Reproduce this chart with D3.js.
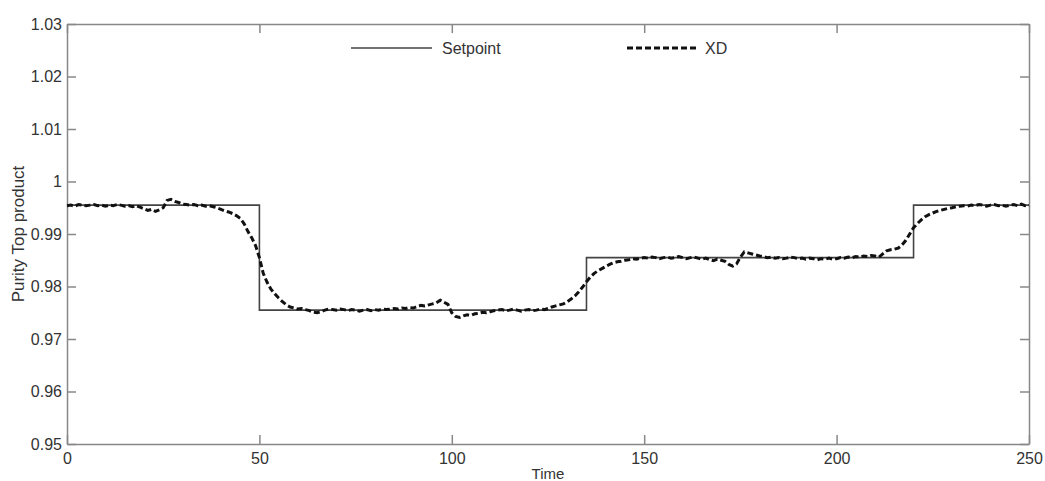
<!DOCTYPE html>
<html lang="en">
<head>
  <meta charset="UTF-8">
  <title>Purity Top product</title>
  <style>
    body {
      margin: 0;
      background: #fff;
      font-family: Arial, "Liberation Sans", sans-serif;
    }
    #chart svg text {
      fill: #333;
    }
  </style>
</head>
<body>
  <div id="chart"></div>

  <script src="https://d3js.org/d3.v7.min.js"></script>
  <script>
    // Setpoint steps (time, value) - held until next step
    const spTime = [0, 50, 135, 220, 250];
    const spValue = [0.9955, 0.9755, 0.9855, 0.9955, 0.9955];

    // XD measured purity, one sample per time unit from 0 to 250
    const xdTime = d3.range(0, 251);
    const xdValue = [
      0.9954, 0.9955, 0.9953, 0.9956, 0.9955, 0.9954, 0.9955, 0.9956, 0.9954, 0.9955,
      0.9953, 0.9955, 0.9954, 0.9956, 0.9955, 0.9953, 0.9954, 0.9952, 0.9954, 0.9951,
      0.9948, 0.9945, 0.9947, 0.9943, 0.9946, 0.9950, 0.9964, 0.9966, 0.9962, 0.9960,
      0.9957, 0.9956, 0.9955, 0.9956, 0.9954, 0.9955, 0.9953, 0.9954, 0.9952, 0.9950,
      0.9947, 0.9944, 0.9942, 0.9939, 0.9935, 0.9930, 0.9920, 0.9905, 0.9893, 0.9878,
      0.9855, 0.9825, 0.9808, 0.9795, 0.9786, 0.9778, 0.9771, 0.9765, 0.9761, 0.9759,
      0.9757, 0.9758, 0.9756, 0.9754, 0.9751, 0.9750, 0.9752, 0.9755, 0.9757, 0.9756,
      0.9755, 0.9757, 0.9756, 0.9754, 0.9756, 0.9755, 0.9753, 0.9755, 0.9756, 0.9754,
      0.9756, 0.9755, 0.9757, 0.9756, 0.9757, 0.9758, 0.9757, 0.9759, 0.9758, 0.9760,
      0.9759, 0.9762, 0.9764, 0.9763, 0.9765, 0.9767, 0.9769, 0.9774, 0.9770, 0.9766,
      0.9750, 0.9743, 0.9741, 0.9744, 0.9746, 0.9745, 0.9748, 0.9749, 0.9751, 0.9750,
      0.9752, 0.9754, 0.9755, 0.9756, 0.9754, 0.9755, 0.9757, 0.9755, 0.9753, 0.9755,
      0.9756, 0.9754, 0.9755, 0.9757, 0.9756, 0.9758, 0.9761, 0.9763, 0.9765, 0.9767,
      0.9771, 0.9776, 0.9782, 0.9790, 0.9799, 0.9809, 0.9818, 0.9825, 0.9830, 0.9834,
      0.9838, 0.9842, 0.9845, 0.9847, 0.9848, 0.9850, 0.9851, 0.9853, 0.9852, 0.9854,
      0.9855, 0.9854, 0.9856, 0.9855, 0.9853, 0.9855, 0.9856, 0.9854, 0.9855, 0.9857,
      0.9855, 0.9853, 0.9855, 0.9856, 0.9854, 0.9852, 0.9854, 0.9851, 0.9849, 0.9852,
      0.9850, 0.9848, 0.9842, 0.9839, 0.9843, 0.9856, 0.9866, 0.9864, 0.9862, 0.9860,
      0.9858, 0.9857, 0.9855, 0.9856, 0.9854, 0.9855, 0.9853, 0.9854, 0.9856, 0.9855,
      0.9853, 0.9854, 0.9852, 0.9854, 0.9853, 0.9851, 0.9853, 0.9852, 0.9854, 0.9852,
      0.9853, 0.9855, 0.9854, 0.9856, 0.9855, 0.9857, 0.9856, 0.9858, 0.9857, 0.9859,
      0.9858, 0.9856, 0.9862, 0.9868, 0.9870, 0.9871, 0.9873, 0.9879, 0.9888, 0.9900,
      0.9912, 0.9920, 0.9927, 0.9933, 0.9937, 0.9940, 0.9943, 0.9945, 0.9947, 0.9949,
      0.9950, 0.9952, 0.9953, 0.9954, 0.9953, 0.9955, 0.9954, 0.9956, 0.9955, 0.9953,
      0.9955, 0.9956, 0.9954, 0.9955, 0.9953, 0.9955, 0.9956, 0.9954, 0.9957, 0.9954,
      0.9955
    ];

    const xTicks = [0, 50, 100, 150, 200, 250];
    const yTicks = [0.95, 0.96, 0.97, 0.98, 0.99, 1.00, 1.01, 1.02, 1.03];

    const width = 1045;
    const height = 481;
    const margin = { top: 24, right: 16, bottom: 37, left: 67 };
    const plotW = width - margin.left - margin.right;
    const plotH = height - margin.top - margin.bottom;

    const svg = d3.select('#chart')
      .append('svg')
      .attr('width', width)
      .attr('height', height);

    const g = svg.append('g')
      .attr('transform', `translate(${margin.left},${margin.top})`);

    const x = d3.scaleLinear().domain([0, 250]).range([0, plotW]);
    const y = d3.scaleLinear().domain([0.95, 1.03]).range([plotH, 0]);

    const fmtY = (d) => String(+d.toFixed(2));
    const axisColor = '#888';
    const tickLen = 9;

    // bottom & left axes with inward ticks
    const xAxis = g.append('g')
      .attr('transform', `translate(0,${plotH})`)
      .call(d3.axisBottom(x).tickValues(xTicks).tickSizeInner(-tickLen).tickSizeOuter(0).tickPadding(14));
    const yAxis = g.append('g')
      .call(d3.axisLeft(y).tickValues(yTicks).tickFormat(fmtY).tickSizeInner(-tickLen).tickSizeOuter(0).tickPadding(14));

    // top & right mirrored ticks
    const xTop = g.append('g')
      .call(d3.axisTop(x).tickValues(xTicks).tickSizeInner(-tickLen).tickSizeOuter(0).tickFormat(''));
    const yRight = g.append('g')
      .attr('transform', `translate(${plotW},0)`)
      .call(d3.axisRight(y).tickValues(yTicks).tickSizeInner(-tickLen).tickSizeOuter(0).tickFormat(''));

    [xAxis, yAxis, xTop, yRight].forEach((a) => {
      a.selectAll('path, line').attr('stroke', axisColor).attr('stroke-width', 1.5);
      a.selectAll('text')
        .style('font-size', '16px')
        .style('font-family', 'Arial, "Liberation Sans", sans-serif');
    });
    xAxis.selectAll('text').attr('dy', '0.4em');
    yAxis.selectAll('text').attr('dx', '9px');

    // setpoint step line
    const spData = spTime.map((t, i) => ({ t, v: spValue[i] }));
    g.append('path')
      .datum(spData)
      .attr('fill', 'none')
      .attr('stroke', '#444')
      .attr('stroke-width', 1.6)
      .attr('d', d3.line().x((d) => x(d.t)).y((d) => y(d.v)).curve(d3.curveStepAfter));

    // XD dashed line
    const xdData = xdTime.map((t, i) => ({ t, v: xdValue[i] }));
    g.append('path')
      .datum(xdData)
      .attr('fill', 'none')
      .attr('stroke', '#111')
      .attr('stroke-width', 3)
      .attr('stroke-dasharray', '6,3')
      .attr('d', d3.line().x((d) => x(d.t)).y((d) => y(d.v)));

    // legend
    const legY = 48;
    svg.append('line')
      .attr('x1', 351).attr('x2', 432).attr('y1', legY).attr('y2', legY)
      .attr('stroke', '#444').attr('stroke-width', 1.6);
    svg.append('text')
      .attr('x', 442).attr('y', legY).attr('dy', '0.35em')
      .style('font-size', '16px')
      .text('Setpoint');
    svg.append('line')
      .attr('x1', 627).attr('x2', 697).attr('y1', legY).attr('y2', legY)
      .attr('stroke', '#111').attr('stroke-width', 3).attr('stroke-dasharray', '6,3');
    svg.append('text')
      .attr('x', 705).attr('y', legY).attr('dy', '0.35em')
      .style('font-size', '16px')
      .text('XD');

    // axis labels
    svg.append('text')
      .attr('x', margin.left + plotW / 2)
      .attr('y', 479)
      .style('text-anchor', 'middle')
      .style('font-size', '15px')
      .text('Time');

    svg.append('text')
      .attr('transform', `translate(18,${margin.top + plotH / 2}) rotate(-90)`)
      .attr('dy', '0.35em')
      .style('text-anchor', 'middle')
      .style('font-size', '17px')
      .text('Purity Top product');
  </script>
</body>
</html>
